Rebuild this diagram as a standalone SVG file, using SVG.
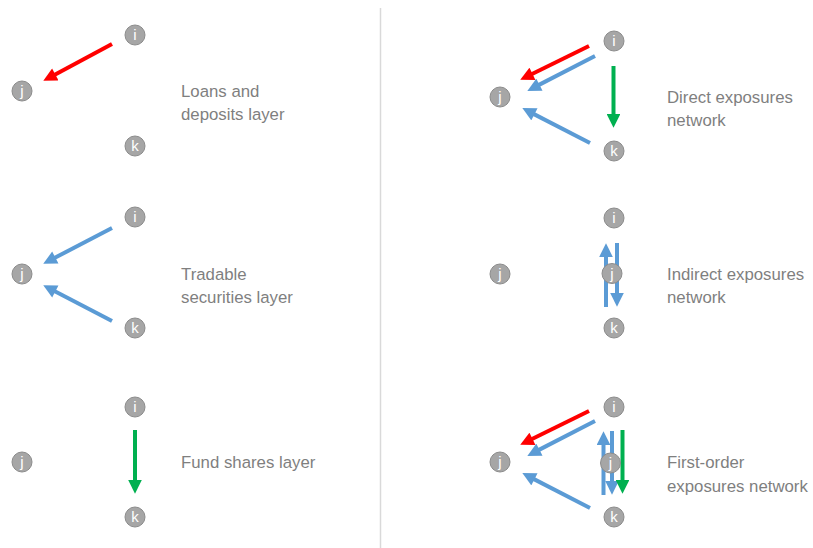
<svg xmlns="http://www.w3.org/2000/svg" width="813" height="548" viewBox="0 0 813 548">
<style>
.n circle{fill:#a6a6a6;stroke:#8c8c8c;stroke-width:1}
.n text{fill:#ffffff;font-family:"Liberation Sans",Arial,sans-serif;font-size:15px;text-anchor:middle}
.lbl{fill:#7f7f7f;font-family:"Liberation Sans",Arial,sans-serif;font-size:16.8px}
.a{fill:none;stroke-width:4;stroke-linecap:butt}
.red{stroke:#ff0000}
.blue{stroke:#5b9bd5}
.green{stroke:#00b050}
</style>
<defs>
<marker id="mr" viewBox="0 0 10 10" refX="2" refY="5" markerWidth="3.6" markerHeight="3.4" orient="auto"><path d="M0,0 L10,5 L0,10 z" fill="#ff0000"/></marker>
<marker id="mb" viewBox="0 0 10 10" refX="2" refY="5" markerWidth="3.6" markerHeight="3.4" orient="auto"><path d="M0,0 L10,5 L0,10 z" fill="#5b9bd5"/></marker>
<marker id="mg" viewBox="0 0 10 10" refX="2" refY="5" markerWidth="3.6" markerHeight="3.4" orient="auto"><path d="M0,0 L10,5 L0,10 z" fill="#00b050"/></marker>
</defs>
<rect width="813" height="548" fill="#ffffff"/>
<line x1="380.5" y1="8" x2="380.5" y2="548" stroke="#d9d9d9" stroke-width="1.5"/>

<g id="connectors">
<line class="a red" x1="112" y1="44" x2="52.9" y2="75.7" marker-end="url(#mr)"/>
<line class="a blue" x1="112" y1="228" x2="52.9" y2="258.8" marker-end="url(#mb)"/>
<line class="a blue" x1="112" y1="321" x2="52.9" y2="290.2" marker-end="url(#mb)"/>
<line class="a green" x1="135" y1="430" x2="135" y2="482.8" marker-end="url(#mg)"/>
<line class="a red" x1="589" y1="46" x2="530" y2="75" marker-end="url(#mr)"/>
<line class="a blue" x1="595" y1="56" x2="537" y2="85.9" marker-end="url(#mb)"/>
<line class="a blue" x1="590" y1="143" x2="532" y2="113.1" marker-end="url(#mb)"/>
<line class="a green" x1="613.5" y1="66" x2="613.5" y2="116.8" marker-end="url(#mg)"/>
<line class="a blue" x1="606" y1="307" x2="606" y2="254.2" marker-end="url(#mb)"/>
<line class="a blue" x1="617" y1="243" x2="617" y2="295.8" marker-end="url(#mb)"/>
<line class="a red" x1="589" y1="411" x2="530" y2="440" marker-end="url(#mr)"/>
<line class="a blue" x1="595" y1="421" x2="537" y2="450.9" marker-end="url(#mb)"/>
<line class="a blue" x1="590" y1="508" x2="532" y2="478.1" marker-end="url(#mb)"/>
<line class="a blue" x1="603.5" y1="495" x2="603.5" y2="442.2" marker-end="url(#mb)"/>
<line class="a blue" x1="612" y1="431" x2="612" y2="483.8" marker-end="url(#mb)"/>
<line class="a green" x1="622.5" y1="430" x2="622.5" y2="482.8" marker-end="url(#mg)"/>
</g>

<g id="loans-i" class="n"><circle cx="135" cy="35" r="10"/><text x="135" y="40.3">i</text></g>
<g id="loans-j" class="n"><circle cx="22" cy="91" r="10"/><text x="22" y="96.3">j</text></g>
<g id="loans-k" class="n"><circle cx="135" cy="146" r="10"/><text x="135" y="151.3">k</text></g>

<g id="trad-i" class="n"><circle cx="135" cy="217" r="10"/><text x="135" y="222.3">i</text></g>
<g id="trad-j" class="n"><circle cx="22" cy="274" r="10"/><text x="22" y="279.3">j</text></g>
<g id="trad-k" class="n"><circle cx="135" cy="328" r="10"/><text x="135" y="333.3">k</text></g>

<g id="fund-i" class="n"><circle cx="135" cy="407" r="10"/><text x="135" y="412.3">i</text></g>
<g id="fund-j" class="n"><circle cx="22" cy="462" r="10"/><text x="22" y="467.3">j</text></g>
<g id="fund-k" class="n"><circle cx="135" cy="517" r="10"/><text x="135" y="522.3">k</text></g>

<g id="direct-i" class="n"><circle cx="614" cy="41" r="10"/><text x="614" y="46.3">i</text></g>
<g id="direct-j" class="n"><circle cx="500" cy="97" r="10"/><text x="500" y="102.3">j</text></g>
<g id="direct-k" class="n"><circle cx="614" cy="151" r="10"/><text x="614" y="156.3">k</text></g>

<g id="indirect-i" class="n"><circle cx="614" cy="218" r="10"/><text x="614" y="223.3">i</text></g>
<g id="indirect-j" class="n"><circle cx="500" cy="274" r="10"/><text x="500" y="279.3">j</text></g>
<g id="indirect-k" class="n"><circle cx="614" cy="328" r="10"/><text x="614" y="333.3">k</text></g>
<g id="indirect-j2" class="n"><circle cx="612" cy="273.5" r="10"/><text x="612" y="278.8">j</text></g>

<g id="first-i" class="n"><circle cx="614" cy="407" r="10"/><text x="614" y="412.3">i</text></g>
<g id="first-j" class="n"><circle cx="500" cy="462" r="10"/><text x="500" y="467.3">j</text></g>
<g id="first-k" class="n"><circle cx="614" cy="517" r="10"/><text x="614" y="522.3">k</text></g>
<g id="first-j2" class="n"><circle cx="610.5" cy="463" r="10"/><text x="610.5" y="468.3">j</text></g>

<g id="labels">
<text class="lbl" x="181" y="97">Loans and</text>
<text class="lbl" x="181" y="120">deposits layer</text>
<text class="lbl" x="181" y="280">Tradable</text>
<text class="lbl" x="181" y="303">securities layer</text>
<text class="lbl" x="181" y="468">Fund shares layer</text>
<text class="lbl" x="667" y="103">Direct exposures</text>
<text class="lbl" x="667" y="126">network</text>
<text class="lbl" x="667" y="280">Indirect exposures</text>
<text class="lbl" x="667" y="303">network</text>
<text class="lbl" x="667" y="468">First-order</text>
<text class="lbl" x="667" y="492">exposures network</text>
</g>
</svg>
